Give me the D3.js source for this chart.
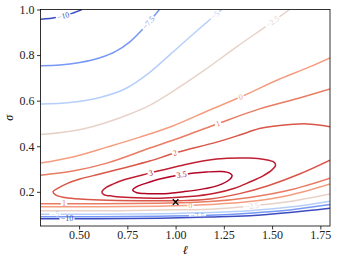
<!DOCTYPE html>
<html>
<head>
<meta charset="utf-8">
<script src="https://cdn.jsdelivr.net/npm/d3@7"></script>
<style>
  body { margin: 0; background: #fff; }
  text { font-family: "Liberation Serif", "DejaVu Serif", serif; }
</style>
</head>
<body>
<div id="chart"></div>
<script>
// contour levels and axis ticks
const levels = [-10, -7.5, -5, -2.5, 0, 1, 2, 3, 3.5];
const xTicks = [0.5, 0.75, 1.0, 1.25, 1.5, 1.75];
const yTicks = [0.2, 0.4, 0.6, 0.8, 1.0];
const trueParams = [1.0, 0.155];

// contour pieces, as [lengthscale, sigma]
const negTenUpper = [[0.3, 0.957], [0.349, 0.960], [0.411, 0.970], [0.463, 0.983], [0.515, 1.0]];
const negSevenHalfUpper = [[0.3, 0.753], [0.401, 0.756], [0.504, 0.767], [0.608, 0.788], [0.685, 0.814], [0.763, 0.858], [0.841, 0.924], [0.916, 1.0]];
const negFiveUpper = [[0.3, 0.585], [0.453, 0.592], [0.608, 0.614], [0.737, 0.651], [0.866, 0.724], [0.970, 0.801], [1.099, 0.898], [1.239, 1.0]];
const negTwoHalfUpper = [[0.3, 0.451], [0.52, 0.476], [0.737, 0.533], [0.866, 0.579], [0.970, 0.632], [1.140, 0.728], [1.316, 0.836], [1.487, 0.937], [1.591, 1.0]];
const zeroUpper = [[0.3, 0.326], [0.468, 0.353], [0.644, 0.396], [0.815, 0.440], [0.985, 0.489], [1.177, 0.559], [1.342, 0.618], [1.539, 0.695], [1.694, 0.748], [1.8, 0.788]];
const oneUpper = [[0.3, 0.273], [0.468, 0.291], [0.644, 0.326], [0.866, 0.392], [1.047, 0.445], [1.228, 0.502], [1.435, 0.564], [1.642, 0.612], [1.8, 0.651]];
const twoLoop = [[1.8, 0.486], [1.679, 0.498], [1.539, 0.491], [1.435, 0.478], [1.332, 0.449], [1.213, 0.418], [0.996, 0.370], [0.866, 0.335], [0.737, 0.306], [0.608, 0.278], [0.504, 0.256], [0.437, 0.236], [0.391, 0.216], [0.365, 0.201], [0.380, 0.185], [0.427, 0.175], [0.504, 0.168], [0.608, 0.164], [0.815, 0.161], [1.022, 0.161], [1.177, 0.168], [1.332, 0.192], [1.487, 0.229], [1.642, 0.278], [1.8, 0.339]];
const threeLoop = [[0.618, 0.199], [0.639, 0.218], [0.675, 0.234], [0.737, 0.254], [0.866, 0.282], [1.037, 0.317], [1.213, 0.344], [1.384, 0.348], [1.461, 0.342], [1.508, 0.331], [1.518, 0.317], [1.498, 0.295], [1.451, 0.269], [1.384, 0.243], [1.306, 0.216], [1.203, 0.194], [1.073, 0.179], [0.918, 0.172], [0.763, 0.175], [0.675, 0.181], [0.628, 0.188]];
const threeHalfLoop = [[0.778, 0.208], [0.799, 0.223], [0.841, 0.236], [0.918, 0.256], [1.037, 0.276], [1.161, 0.287], [1.239, 0.289], [1.280, 0.282], [1.293, 0.271], [1.280, 0.254], [1.218, 0.227], [1.151, 0.214], [1.047, 0.201], [0.944, 0.192], [0.856, 0.192], [0.799, 0.196]];
const oneLower = [[0.3, 0.148], [0.608, 0.148], [0.918, 0.150], [1.177, 0.157], [1.384, 0.175], [1.591, 0.208], [1.8, 0.260]];
const zeroLower = [[0.3, 0.135], [0.608, 0.135], [0.918, 0.137], [1.177, 0.144], [1.384, 0.157], [1.591, 0.185], [1.8, 0.234]];
const negTwoHalfLower = [[0.3, 0.117], [0.608, 0.117], [0.918, 0.120], [1.177, 0.124], [1.384, 0.137], [1.591, 0.157], [1.8, 0.190]];
const negFiveLower = [[0.3, 0.102], [0.608, 0.102], [0.918, 0.104], [1.177, 0.109], [1.384, 0.117], [1.591, 0.133], [1.8, 0.159]];
const negSevenHalfLower = [[0.3, 0.091], [0.608, 0.091], [0.918, 0.093], [1.177, 0.097], [1.384, 0.106], [1.591, 0.120], [1.8, 0.144]];
const negTenLower = [[0.3, 0.082], [0.608, 0.082], [0.918, 0.084], [1.177, 0.089], [1.384, 0.095], [1.591, 0.109], [1.8, 0.128]];

// inline label spots: [level, lengthscale, sigma]
const labelSpots = [
    [-10, 0.416, 0.977], [-7.5, 0.841, 0.955], [-5, 1.203, 0.977], [-2.5, 1.503, 0.946],
    [0, 1.337, 0.616], [1, 1.218, 0.502], [2, 0.996, 0.372], [3, 0.871, 0.282], [3.5, 1.032, 0.276],
    [1, 0.421, 0.146], [-5, 0.375, 0.095], [-10, 0.437, 0.082],
    [0, 1.078, 0.133], [-2.5, 1.394, 0.137], [-7.5, 1.114, 0.097]
];

const pieces = [
    { level: -10, pts: negTenUpper }, { level: -10, pts: negTenLower },
    { level: -7.5, pts: negSevenHalfUpper }, { level: -7.5, pts: negSevenHalfLower },
    { level: -5, pts: negFiveUpper }, { level: -5, pts: negFiveLower },
    { level: -2.5, pts: negTwoHalfUpper }, { level: -2.5, pts: negTwoHalfLower },
    { level: 0, pts: zeroUpper }, { level: 0, pts: zeroLower },
    { level: 1, pts: oneUpper }, { level: 1, pts: oneLower },
    { level: 2, pts: twoLoop, kind: "loop" },
    { level: 3, pts: threeLoop, kind: "closed" },
    { level: 3.5, pts: threeHalfLoop, kind: "closed" }
];

const W = 337, H = 262;
const margin = { top: 9.5, right: 7, bottom: 36, left: 40.5 };
const width = W - margin.left - margin.right;
const height = H - margin.top - margin.bottom;

const svg = d3.select("#chart").append("svg")
    .attr("width", W).attr("height", H);

const g = svg.append("g")
    .attr("transform", `translate(${margin.left},${margin.top})`);

const x = d3.scaleLinear().domain([0.3, 1.8]).range([0, width]);
const y = d3.scaleLinear().domain([0.05, 1.0]).range([height, 0]);

// coolwarm colormap
const coolwarm = d3.scaleLinear()
    .domain(d3.range(9).map(i => i / 8))
    .range(["#3b4cc0", "#6282ea", "#8db0fe", "#b8d0f9", "#dddddd", "#f5c4ad", "#f49a7b", "#de604d", "#b40426"])
    .interpolate(d3.interpolateRgb);
const levelT = d3.scaleLinear().domain(d3.extent(levels)).range([0, 1]);
const color = lev => coolwarm(levelT(lev));

svg.append("defs").append("clipPath").attr("id", "plotClip")
    .append("rect").attr("width", width).attr("height", height);

const contourG = g.append("g").attr("clip-path", "url(#plotClip)");

const lineWith = curve => d3.line().x(d => x(d[0])).y(d => y(d[1])).curve(curve);
const generators = {
    open: lineWith(d3.curveMonotoneX),
    loop: lineWith(d3.curveCatmullRom.alpha(0.5)),
    closed: lineWith(d3.curveCatmullRomClosed.alpha(0.5))
};

pieces.forEach((p, i) => {
    p.id = i;
    p.path = contourG.append("path")
        .attr("d", generators[p.kind || "open"](p.pts))
        .attr("fill", "none")
        .attr("stroke", color(p.level))
        .attr("stroke-width", 1.5);
    p.node = p.path.node();
    p.holes = [];
});

// place labels on nearest contour point, rotated along the line
const fmt = v => (v < 0 ? "\u2212" : "") + Math.abs(v);
const labelG = g.append("g");
labelSpots.forEach(([lev, l, s]) => {
    const tx = x(l), ty = y(s);
    let best = null;
    pieces.filter(p => p.level === lev).forEach(p => {
        const L = p.node.getTotalLength();
        for (let d = 0; d <= L; d += 0.5) {
            const pt = p.node.getPointAtLength(d);
            const dist = (pt.x - tx) ** 2 + (pt.y - ty) ** 2;
            if (!best || dist < best.dist) best = { dist, d, p, L };
        }
    });
    const { p, d, L } = best;
    const c = p.node.getPointAtLength(d);
    const a = p.node.getPointAtLength(Math.max(0, d - 4));
    const b = p.node.getPointAtLength(Math.min(L, d + 4));
    let ang = Math.atan2(b.y - a.y, b.x - a.x) * 180 / Math.PI;
    if (ang > 90) ang -= 180;
    if (ang < -90) ang += 180;
    const t = labelG.append("text")
        .attr("transform", `translate(${c.x},${c.y}) rotate(${ang})`)
        .attr("text-anchor", "middle")
        .attr("dy", "0.33em")
        .style("font-size", "8px")
        .attr("fill", color(lev))
        .text(fmt(lev));
    const w = t.node().getComputedTextLength();
    p.holes.push({ cx: c.x, cy: c.y, ang, w: w + 2.5 });
});

// cut the lines where the labels sit
const defs = svg.select("defs");
pieces.filter(p => p.holes.length).forEach(p => {
    const m = defs.append("mask").attr("id", `cut${p.id}`)
        .attr("maskUnits", "userSpaceOnUse")
        .attr("x", -50).attr("y", -50).attr("width", W + 100).attr("height", H + 100);
    m.append("rect").attr("x", -50).attr("y", -50).attr("width", W + 100).attr("height", H + 100).attr("fill", "#fff");
    p.holes.forEach(h => {
        m.append("rect")
            .attr("x", -h.w / 2).attr("y", -3.5)
            .attr("width", h.w).attr("height", 7)
            .attr("transform", `translate(${h.cx},${h.cy}) rotate(${h.ang})`)
            .attr("fill", "#000");
    });
    p.path.attr("mask", `url(#cut${p.id})`);
});

// true hyperparameters
g.append("path")
    .attr("d", d3.symbol(d3.symbolX, 22)())
    .attr("transform", `translate(${x(trueParams[0])},${y(trueParams[1])})`)
    .attr("fill", "none")
    .attr("stroke", "#000")
    .attr("stroke-width", 1.3);

// axes
const xAxis = g.append("g")
    .attr("transform", `translate(0,${height})`)
    .call(d3.axisBottom(x).tickValues(xTicks).tickFormat(d3.format(".2f")).tickSize(3.5).tickPadding(1));
const yAxis = g.append("g")
    .call(d3.axisLeft(y).tickValues(yTicks).tickFormat(d3.format(".1f")).tickSize(3.5).tickPadding(2.5));
[xAxis, yAxis].forEach(ax => {
    ax.select(".domain").remove();
    ax.selectAll(".tick line").attr("stroke", "#000").attr("stroke-width", 0.8);
    ax.selectAll(".tick text")
        .attr("fill", "#222")
        .style("font-family", '"Liberation Serif", "DejaVu Serif", serif')
        .style("font-size", "12px");
});

// frame
g.append("rect")
    .attr("width", width).attr("height", height)
    .attr("fill", "none").attr("stroke", "#000").attr("stroke-width", 0.8);

// axis labels
svg.append("text")
    .attr("x", margin.left + width / 2)
    .attr("y", 254)
    .attr("text-anchor", "middle")
    .style("font-size", "12px")
    .style("font-style", "italic")
    .text("\u2113");

svg.append("text")
    .attr("transform", `translate(13,${margin.top + height / 2}) rotate(-90)`)
    .attr("text-anchor", "middle")
    .style("font-size", "12px")
    .style("font-style", "italic")
    .text("\u03c3");
</script>
</body>
</html>
